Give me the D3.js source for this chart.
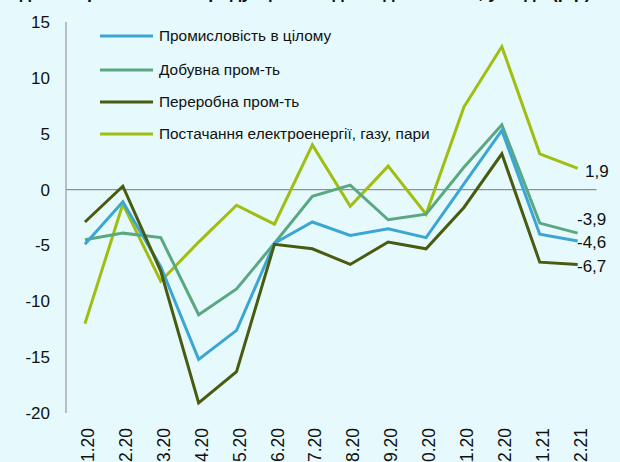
<!DOCTYPE html>
<html>
<head>
<meta charset="utf-8">
<script src="https://cdn.jsdelivr.net/npm/d3@7"></script>
<style>
body{margin:0;background:#e6fafd;}
svg{display:block;font-family:Arial,"Liberation Sans",sans-serif;}
</style>
</head>
<body>
<svg id="chart" width="620" height="462"></svg>
<script>
let months = ['01.20','02.20','03.20','04.20','05.20','06.20','07.20','08.20','09.20','10.20','11.20','12.20','01.21','02.21'];
let industry = [-4.9,-1.1,-6.9,-15.2,-12.6,-4.8,-2.9,-4.1,-3.5,-4.3,0.5,5.3,-4.0,-4.6];
let mining = [-4.5,-3.9,-4.3,-11.2,-8.9,-4.8,-0.6,0.4,-2.7,-2.2,2.0,5.8,-3.0,-3.9];
let processing = [-2.9,0.3,-7.3,-19.1,-16.3,-4.9,-5.3,-6.7,-4.7,-5.3,-1.6,3.2,-6.5,-6.7];
let energy = [-12.0,-1.3,-8.2,-4.7,-1.4,-3.1,4.0,-1.5,2.1,-2.2,7.4,12.8,3.2,1.9];
let seriesNames = ['Промисловість в цілому','Добувна пром-ть','Переробна пром-ть','Постачання електроенергії, газу, пари'];
let seriesColors = ['#3ba6d4','#5aa882','#4a5a0e','#a0be10'];
let endLabels = ['-4,6','-3,9','-6,7','1,9'];
let yTicks = [15,10,5,0,-5,-10,-15,-20];

let allSeries = [industry, mining, processing, energy];
let svg = d3.select('#chart');

// title, mostly cut off above the frame
svg.append('text')
    .attr('x', 4).attr('y', -2)
    .style('font-size', '18px').style('font-weight', 'bold').style('fill', '#111')
    .text('Індекси промислової продукції за видами діяльності, у % до (р/р)');

let x = d3.scaleBand().domain(months).range([66, 596.6]);
let y = d3.scaleLinear().domain([-20, 15]).range([413, 22]);

// axes
svg.append('line').attr('x1', 66).attr('x2', 66).attr('y1', y(15)).attr('y2', y(-20))
    .style('stroke', '#a0a0a0').style('stroke-width', 1.3);
svg.append('line').attr('x1', 66).attr('x2', 596.6).attr('y1', y(0)).attr('y2', y(0))
    .style('stroke', '#909090').style('stroke-width', 1.3);

svg.selectAll('.ytick').data(yTicks).enter().append('text')
    .attr('class', 'ytick')
    .attr('x', 50).attr('y', function(d){return y(d)})
    .attr('dy', '0.35em').attr('text-anchor', 'end')
    .style('font-size', '17px').style('fill', '#111')
    .text(function(d){return d});

svg.selectAll('.xtick').data(months).enter().append('text')
    .attr('class', 'xtick')
    .attr('transform', function(d){return 'translate(' + (x(d) + x.bandwidth()/2 + 3) + ',428) rotate(-90)'})
    .attr('dy', '0.35em').attr('text-anchor', 'end')
    .style('font-size', '17.5px').style('fill', '#111')
    .text(function(d){return d});

let line = d3.line()
    .x(function(d, i){return x(months[i]) + x.bandwidth()/2})
    .y(function(d){return y(d)});

// draw order: energy underneath, then mining, industry, processing
let order = [3, 1, 0, 2];
for(let k = 0; k < order.length; k++){
    let s = order[k];
    svg.append('path')
        .datum(allSeries[s])
        .attr('d', line)
        .style('fill', 'none')
        .style('stroke', seriesColors[s])
        .style('stroke-width', 3)
        .style('stroke-linejoin', 'miter');
}

// end labels
let labelY = [242, 219, 266, 171];
for(let s = 0; s < allSeries.length; s++){
    svg.append('text')
        .attr('x', s == 3 ? 585 : 577).attr('y', labelY[s])
        .attr('dy', '0.35em')
        .style('font-size', '17px').style('fill', '#111')
        .text(endLabels[s]);
}

// legend
let legendY = [36, 70, 102, 134];
let legend = svg.selectAll('.leg').data(seriesNames).enter().append('g').attr('class', 'leg');
legend.append('line')
    .attr('x1', 100).attr('x2', 153)
    .attr('y1', function(d, i){return legendY[i]}).attr('y2', function(d, i){return legendY[i]})
    .style('stroke', function(d, i){return seriesColors[i]})
    .style('stroke-width', 3);
legend.append('text')
    .attr('x', 159).attr('y', function(d, i){return legendY[i]})
    .attr('dy', '0.35em')
    .style('font-size', '15.4px').style('fill', '#111')
    .text(function(d){return d});
</script>
</body>
</html>
